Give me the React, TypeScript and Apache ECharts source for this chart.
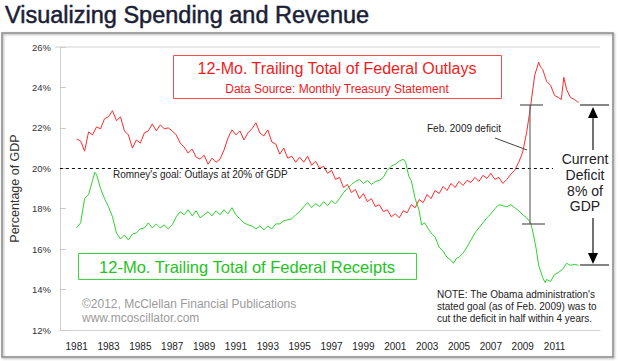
import React, { useEffect, useRef } from "react";
import * as echarts from "echarts";

const yearLabels = [1981, 1983, 1985, 1987, 1989, 1991, 1993, 1995, 1997, 1999, 2001, 2003, 2005, 2007, 2009, 2011];

const outlayYears = [
  1981.0, 1981.25, 1981.5, 1981.75, 1982.0, 1982.25, 1982.5, 1982.75, 1983.0, 1983.25, 1983.5, 1983.75,
  1984.0, 1984.25, 1984.5, 1984.75, 1985.0, 1985.25, 1985.5, 1985.75, 1986.0, 1986.25, 1986.5, 1986.75,
  1987.0, 1987.25, 1987.5, 1987.75, 1988.0, 1988.25, 1988.5, 1988.75, 1989.0, 1989.25, 1989.5, 1989.75,
  1990.0, 1990.25, 1990.5, 1990.75, 1991.0, 1991.25, 1991.5, 1991.75, 1992.0, 1992.25, 1992.5, 1992.75,
  1993.0, 1993.25, 1993.5, 1993.75, 1994.0, 1994.25, 1994.5, 1994.75, 1995.0, 1995.25, 1995.5, 1995.75,
  1996.0, 1996.25, 1996.5, 1996.75, 1997.0, 1997.25, 1997.5, 1997.75, 1998.0, 1998.25, 1998.5, 1998.75,
  1999.0, 1999.25, 1999.5, 1999.75, 2000.0, 2000.25, 2000.5, 2000.75, 2001.0, 2001.25, 2001.5, 2001.75,
  2002.0, 2002.25, 2002.5, 2002.75, 2003.0, 2003.25, 2003.5, 2003.75, 2004.0, 2004.25, 2004.5, 2004.75,
  2005.0, 2005.25, 2005.5, 2005.75, 2006.0, 2006.25, 2006.5, 2006.75, 2007.0, 2007.25, 2007.5, 2007.75,
  2008.0, 2008.25, 2008.5, 2008.75, 2009.0, 2009.25, 2009.5, 2009.75, 2010.0, 2010.12, 2010.25, 2010.5,
  2010.75, 2011.0, 2011.25, 2011.42, 2011.58, 2011.75, 2012.0, 2012.25, 2012.5,
];
const outlayValues = [
  21.45, 21.35, 20.85, 21.8, 21.65, 22.05, 21.95, 22.45, 22.55, 22.85, 22.35, 22.55,
  21.85, 21.65, 21.0, 21.4, 21.25, 21.75, 21.85, 22.2, 21.85, 22.15, 21.95, 22.0,
  21.85, 21.65, 21.25, 21.05, 20.75, 20.95, 20.55, 20.45, 20.65, 20.2, 20.5, 20.3,
  20.45, 20.9, 21.5, 21.9, 21.65, 21.85, 21.4, 21.75, 21.95, 22.25, 21.75, 21.6,
  21.9, 21.3, 21.2, 20.7, 21.0, 20.5, 20.6, 20.3, 20.55, 20.3, 20.6, 20.15,
  20.35, 20.0, 20.1, 19.75, 19.9, 19.45, 19.55, 19.05, 19.2, 18.8, 18.95, 18.5,
  18.75, 18.35, 18.5, 18.1, 18.2, 17.85, 17.95, 17.6, 17.75, 17.55, 17.9, 17.8,
  18.2, 18.05, 18.45, 18.3, 18.7, 18.5, 18.9, 18.75, 19.1, 18.9, 19.25, 19.05,
  19.35, 19.15, 19.4, 19.3, 19.55, 19.35, 19.65, 19.5, 19.75, 19.45, 19.55, 19.25,
  19.45, 19.7, 19.9, 20.3, 20.8, 21.8, 23.1, 24.6, 25.25, 25.0, 24.9, 24.3,
  24.1, 23.6, 23.5, 23.4, 24.5, 23.9, 23.5, 23.4, 23.25,
];

const receiptYears = [
  1981.0, 1981.25, 1981.5, 1981.75, 1982.0, 1982.15, 1982.25, 1982.5, 1982.75, 1983.0, 1983.25, 1983.5, 1983.75,
  1984.0, 1984.25, 1984.5, 1984.75, 1985.0, 1985.25, 1985.5, 1985.75, 1986.0, 1986.25, 1986.5, 1986.75,
  1987.0, 1987.25, 1987.5, 1987.75, 1988.0, 1988.25, 1988.5, 1988.75, 1989.0, 1989.25, 1989.5, 1989.75,
  1990.0, 1990.25, 1990.5, 1990.75, 1991.0, 1991.25, 1991.5, 1991.75, 1992.0, 1992.25, 1992.5, 1992.75,
  1993.0, 1993.25, 1993.5, 1993.75, 1994.0, 1994.25, 1994.5, 1994.75, 1995.0, 1995.25, 1995.5, 1995.75,
  1996.0, 1996.25, 1996.5, 1996.75, 1997.0, 1997.25, 1997.5, 1997.75, 1998.0, 1998.25, 1998.5, 1998.75,
  1999.0, 1999.25, 1999.5, 1999.75, 2000.0, 2000.25, 2000.5, 2000.75, 2001.0, 2001.25, 2001.5, 2001.65,
  2001.85, 2002.0, 2002.25, 2002.5, 2002.65, 2002.85, 2003.0, 2003.25, 2003.5, 2003.75, 2004.0, 2004.25,
  2004.5, 2004.65, 2004.85, 2005.0, 2005.25, 2005.5, 2005.75, 2006.0, 2006.25, 2006.5, 2006.75, 2007.0,
  2007.25, 2007.5, 2007.75, 2008.0, 2008.25, 2008.5, 2008.75, 2009.0, 2009.25, 2009.5, 2009.65, 2009.85,
  2010.0, 2010.25, 2010.4, 2010.5, 2010.75, 2011.0, 2011.25, 2011.5, 2011.75, 2012.0, 2012.25, 2012.5,
];
const receiptValues = [
  17.05, 17.3, 18.5, 18.7, 19.4, 19.8, 19.7, 19.0, 18.5, 18.1, 17.6, 16.8, 16.5,
  16.7, 16.45, 16.75, 16.8, 17.0, 17.05, 17.3, 17.05, 17.25, 17.05, 17.2, 17.0,
  17.2, 17.6, 17.85, 17.7, 17.95, 17.65, 17.9, 17.55, 17.7, 17.85, 17.65, 17.9,
  17.7, 17.95, 17.75, 18.05, 17.7, 17.5, 17.3, 17.2, 17.15, 17.0, 17.15, 16.95,
  17.15, 17.0, 17.25, 17.25, 17.4, 17.45, 17.5, 17.7, 17.85, 18.1, 18.3, 18.05,
  18.25, 18.1, 18.35, 18.15, 18.4, 18.25, 18.5, 18.8, 19.0, 19.2, 19.35, 19.45,
  19.25, 19.4, 19.2, 19.35, 19.4, 19.55, 19.9, 20.1, 20.2, 20.35, 20.45, 20.3,
  19.6, 19.4, 18.5, 17.9, 17.2, 17.3, 17.1, 16.8, 16.6, 16.1, 15.9, 15.6,
  15.45, 15.3, 15.55, 15.6, 15.8, 16.1, 16.45, 16.8, 17.05, 17.3, 17.55, 17.75,
  18.0, 18.2, 18.15, 18.1, 18.2, 18.05, 17.9, 17.7, 17.55, 17.3, 16.8, 16.0,
  15.2, 14.6, 14.35, 14.5, 14.4, 14.75, 14.85, 15.0, 15.3, 15.2, 15.25, 15.2,
];

const goalLevel = 20;
const goalEndYear = 2010.9;

const FONT = "'Liberation Sans', Arial, Helvetica, sans-serif";
const RED = "#ff2a2a";
const GREEN = "#2ed12e";

export default function App() {
  const ref = useRef<HTMLDivElement>(null);

  useEffect(() => {
    if (!ref.current) return;
    const chart = echarts.init(ref.current, null, { renderer: "svg" });

    const outlays = outlayYears.map((y, i) => [y, outlayValues[i]]);
    const receipts = receiptYears.map((y, i) => [y, receiptValues[i]]);

    const txt = (x: number, y: number, text: string, size: number, color: string, align = "left", extra: any = {}) => ({
      type: "text",
      x,
      y,
      z: 20,
      style: {
        text,
        fill: color,
        font: `${size}px ${FONT}`,
        textAlign: align,
        textVerticalAlign: "middle",
        ...extra,
      },
    });
    const ln = (x1: number, y1: number, x2: number, y2: number, color: string, w = 1) => ({
      type: "line",
      z: 20,
      shape: { x1, y1, x2, y2 },
      style: { stroke: color, lineWidth: w },
    });

    chart.setOption({
      animation: false,
      backgroundColor: "#ffffff",
      grid: { left: 55, top: 47, right: 20, bottom: 31, containLabel: false },
      xAxis: {
        type: "value",
        min: 1979.95,
        max: 2013.85,
        axisLine: { show: true, lineStyle: { color: "#d0d0d0", width: 1 } },
        axisTick: { show: false },
        splitLine: { show: false },
        axisLabel: {
          customValues: yearLabels,
          formatter: (v: number) => String(v),
          color: "#222",
          fontSize: 10,
          fontFamily: FONT,
          margin: 11,
        },
      },
      yAxis: {
        type: "value",
        min: 12,
        max: 26,
        interval: 2,
        name: "Percentage of GDP",
        nameLocation: "middle",
        nameGap: 38,
        nameTextStyle: { color: "#333", fontSize: 12.5, fontFamily: FONT },
        axisLine: { show: true, lineStyle: { color: "#d0d0d0", width: 1 } },
        axisTick: { show: true, inside: true, length: 6, lineStyle: { color: "#c8c8c8" } },
        splitLine: { show: false },
        axisLabel: {
          formatter: "{value}%",
          color: "#333",
          fontSize: 9.5,
          fontFamily: FONT,
          margin: 9,
        },
      },
      series: [
        {
          name: "Outlays",
          type: "line",
          data: outlays,
          showSymbol: false,
          symbol: "none",
          lineStyle: { color: RED, width: 1 },
          z: 3,
          markLine: {
            silent: true,
            symbol: ["none", "none"],
            label: { show: false },
            lineStyle: { color: "#111", type: [3, 3], width: 1 },
            data: [[{ coord: [1979.95, goalLevel] }, { coord: [goalEndYear, goalLevel] }]],
          },
        },
        {
          name: "Receipts",
          type: "line",
          data: receipts,
          showSymbol: false,
          symbol: "none",
          lineStyle: { color: GREEN, width: 1 },
          z: 3,
        },
      ],
      graphic: [
        {
          type: "rect",
          z: 1,
          shape: { x: 2, y: 33, width: 611, height: 324 },
          style: { fill: "none", stroke: "#8a8a8a", lineWidth: 1.5, shadowBlur: 2, shadowColor: "rgba(0,0,0,0.35)", shadowOffsetX: 1, shadowOffsetY: 1 },
        },
        ln(55, 47, 600, 47, "#d0d0d0"),
        txt(5, 15, "Visualizing Spending and Revenue", 23.5, "#1a1e36", "left", { stroke: "#1a1e36", lineWidth: 0.5 }),
        {
          type: "rect",
          z: 15,
          shape: { x: 173.5, y: 55.5, width: 328, height: 43 },
          style: { fill: "#fff", stroke: "#ff4a4a", lineWidth: 1 },
        },
        txt(337, 68, "12-Mo. Trailing Total of Federal Outlays", 16, "#f01c1c", "center"),
        txt(337, 89, "Data Source: Monthly Treasury Statement", 12, "#f01c1c", "center"),
        {
          type: "rect",
          z: 15,
          shape: { x: 78.5, y: 253.5, width: 338, height: 26 },
          style: { fill: "#fff", stroke: "#3ad63a", lineWidth: 1 },
        },
        txt(247, 266.5, "12-Mo. Trailing Total of Federal Receipts", 16.5, "#22c422", "center"),
        txt(82, 304, "©2012, McClellan Financial Publications", 12, "#9a9a9a"),
        txt(82, 318, "www.mcoscillator.com", 12, "#9a9a9a"),
        txt(437, 294, "NOTE: The Obama administration's", 10, "#222"),
        txt(437, 306, "stated goal (as of Feb. 2009) was to", 10, "#222"),
        txt(437, 318, "cut the deficit in half within 4 years.", 10, "#222"),
        txt(113, 174, "Romney's goal: Outlays at 20% of GDP", 10, "#222"),
        // Feb. 2009 deficit bracket
        ln(530, 105, 530, 224, "#6a6a6a", 1.2),
        ln(520, 105, 543, 105, "#555", 1.2),
        ln(522, 224, 545, 224, "#555", 1.2),
        txt(427, 128, "Feb. 2009 deficit", 10, "#222"),
        ln(495, 138, 527, 150, "#444", 1),
        // Current deficit
        ln(580, 105, 609, 105, "#333", 1.2),
        ln(580, 265, 609, 265, "#333", 1.2),
        ln(593, 117, 593, 150, "#111", 1.2),
        { type: "polygon", z: 20, shape: { points: [[593, 107], [588, 118], [598, 118]] }, style: { fill: "#000" } },
        ln(593, 218, 593, 254, "#111", 1.2),
        { type: "polygon", z: 20, shape: { points: [[593, 264], [588, 253], [598, 253]] }, style: { fill: "#000" } },
        txt(585, 159, "Current", 14, "#222", "center"),
        txt(585, 175, "Deficit", 14, "#222", "center"),
        txt(585, 190.5, "8% of", 14, "#222", "center"),
        txt(585, 206, "GDP", 14, "#222", "center"),
      ],
    });

    return () => chart.dispose();
  }, []);

  return (
    <div
      ref={ref}
      style={{ position: "fixed", left: 0, top: 0, width: 620, height: 361, background: "#fff" }}
    />
  );
}
